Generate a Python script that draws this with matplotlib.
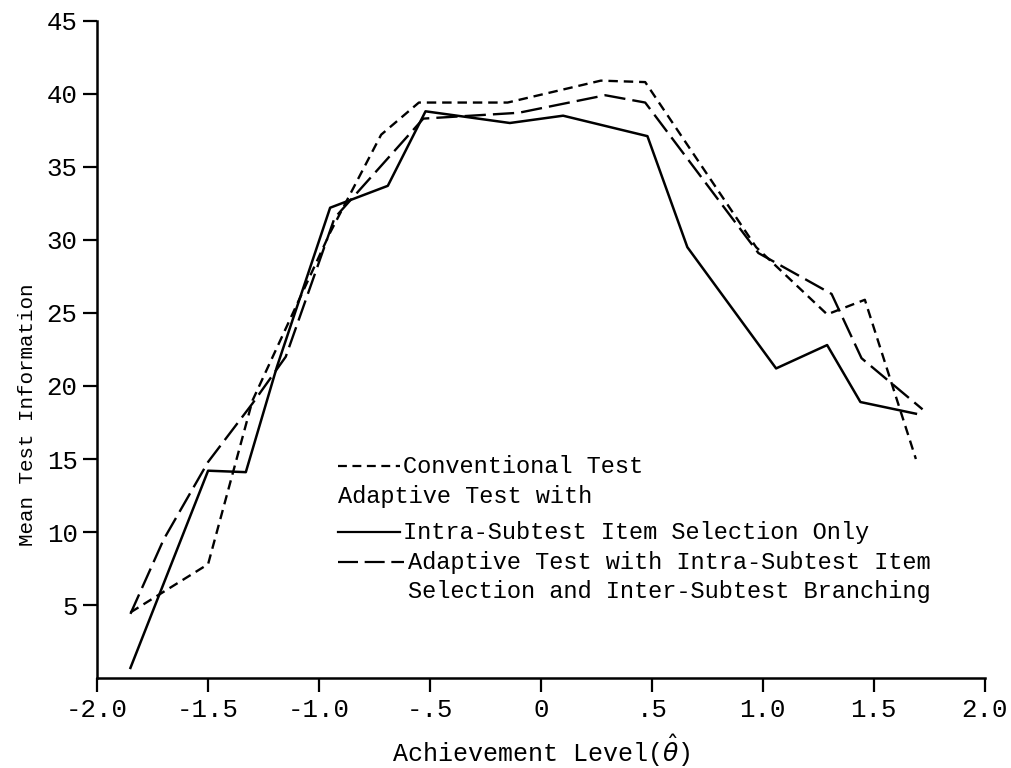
"""Mean test information vs achievement level, conventional vs adaptive tests.

Run:

    python3 plot.py
"""

from __future__ import annotations

import matplotlib

matplotlib.use("Agg")
import matplotlib.pyplot as plt

# conventional test (short dashes)
conv_theta = [-1.85, -1.5, -1.3, -0.95, -0.72, -0.55, -0.15, 0.27, 0.47, 0.97, 1.29, 1.46, 1.69]
conv_info = [4.5, 7.8, 19.0, 30.5, 37.2, 39.4, 39.4, 40.9, 40.8, 29.5, 24.9, 25.9, 15.0]

# adaptive, intra-subtest item selection only (solid)
intra_theta = [-1.85, -1.5, -1.33, -1.19, -0.95, -0.69, -0.52, -0.14, 0.1, 0.48, 0.66, 1.06, 1.29, 1.44, 1.69]
intra_info = [0.7, 14.2, 14.1, 21.3, 32.2, 33.7, 38.8, 38.0, 38.5, 37.1, 29.5, 21.2, 22.8, 18.9, 18.1]

# adaptive, intra-subtest selection + inter-subtest branching (long dashes)
branch_theta = [-1.85, -1.7, -1.5, -1.3, -1.15, -0.93, -0.53, -0.1, 0.29, 0.47, 0.98, 1.31, 1.445, 1.72]
branch_info = [4.4, 9.5, 14.8, 18.8, 22.0, 31.5, 38.3, 38.7, 39.9, 39.4, 29.1, 26.3, 21.9, 18.4]

x_ticks = [-2.0, -1.5, -1.0, -0.5, 0.0, 0.5, 1.0, 1.5, 2.0]
x_tick_labels = ["-2.0", "-1.5", "-1.0", "-.5", "0", ".5", "1.0", "1.5", "2.0"]
y_ticks = [5, 10, 15, 20, 25, 30, 35, 40, 45]

FONT = "Liberation Mono"
SHORT_DASH = (0, (4, 2.5))
LONG_DASH = (0, (9, 3))


def draw_key(ax) -> None:
    """Hand-drawn style key inside the plot area, like the original figure."""
    x0, x1 = -0.914, -0.635
    xt = -0.60
    kw = dict(fontfamily=FONT, fontsize=17, va="center", ha="left")

    ax.plot([x0, x1], [14.5, 14.5], color="black", lw=1.6, ls=SHORT_DASH)
    ax.text(xt - 0.02, 14.5, "Conventional Test", **kw)

    ax.text(x0, 12.4, "Adaptive Test with", **kw)

    ax.plot([x0, x1], [10.0, 10.0], color="black", lw=1.6)
    ax.text(xt - 0.02, 10.0, "Intra-Subtest Item Selection Only", **kw)

    ax.plot([x0, x1 + 0.02], [7.95, 7.95], color="black", lw=1.6, ls=LONG_DASH)
    ax.text(xt, 7.95, "Adaptive Test with Intra-Subtest Item", **kw)
    ax.text(xt, 5.9, "Selection and Inter-Subtest Branching", **kw)


def main() -> None:
    fig = plt.figure(figsize=(10.12, 7.68), dpi=100)
    ax = fig.add_axes([0.096, 0.117, 0.877, 0.856])

    ax.plot(conv_theta, conv_info, color="black", lw=1.7, ls=SHORT_DASH)
    ax.plot(intra_theta, intra_info, color="black", lw=1.8)
    ax.plot(branch_theta, branch_info, color="black", lw=1.7, ls=LONG_DASH)

    draw_key(ax)

    ax.set_xlim(-2.0, 2.0)
    ax.set_ylim(0, 45)
    ax.set_xticks(x_ticks)
    ax.set_xticklabels(x_tick_labels)
    ax.set_yticks(y_ticks)

    for side in ("top", "right"):
        ax.spines[side].set_visible(False)
    for side in ("left", "bottom"):
        ax.spines[side].set_linewidth(1.8)

    ax.tick_params(direction="out", length=10, width=1.6, labelsize=18.5, pad=4)
    for lab in ax.get_xticklabels() + ax.get_yticklabels():
        lab.set_fontfamily(FONT)

    ax.set_xlabel(r"Achievement Level($\hat{\theta}$)", fontfamily=FONT, fontsize=18)
    ax.xaxis.set_label_coords(0.5, -0.083)
    ax.set_ylabel("Mean Test Information", fontfamily=FONT, fontsize=15)
    ax.yaxis.set_label_coords(-0.068, 0.40)

    fig.savefig("out.png", dpi=100, facecolor="white")


if __name__ == "__main__":
    main()
